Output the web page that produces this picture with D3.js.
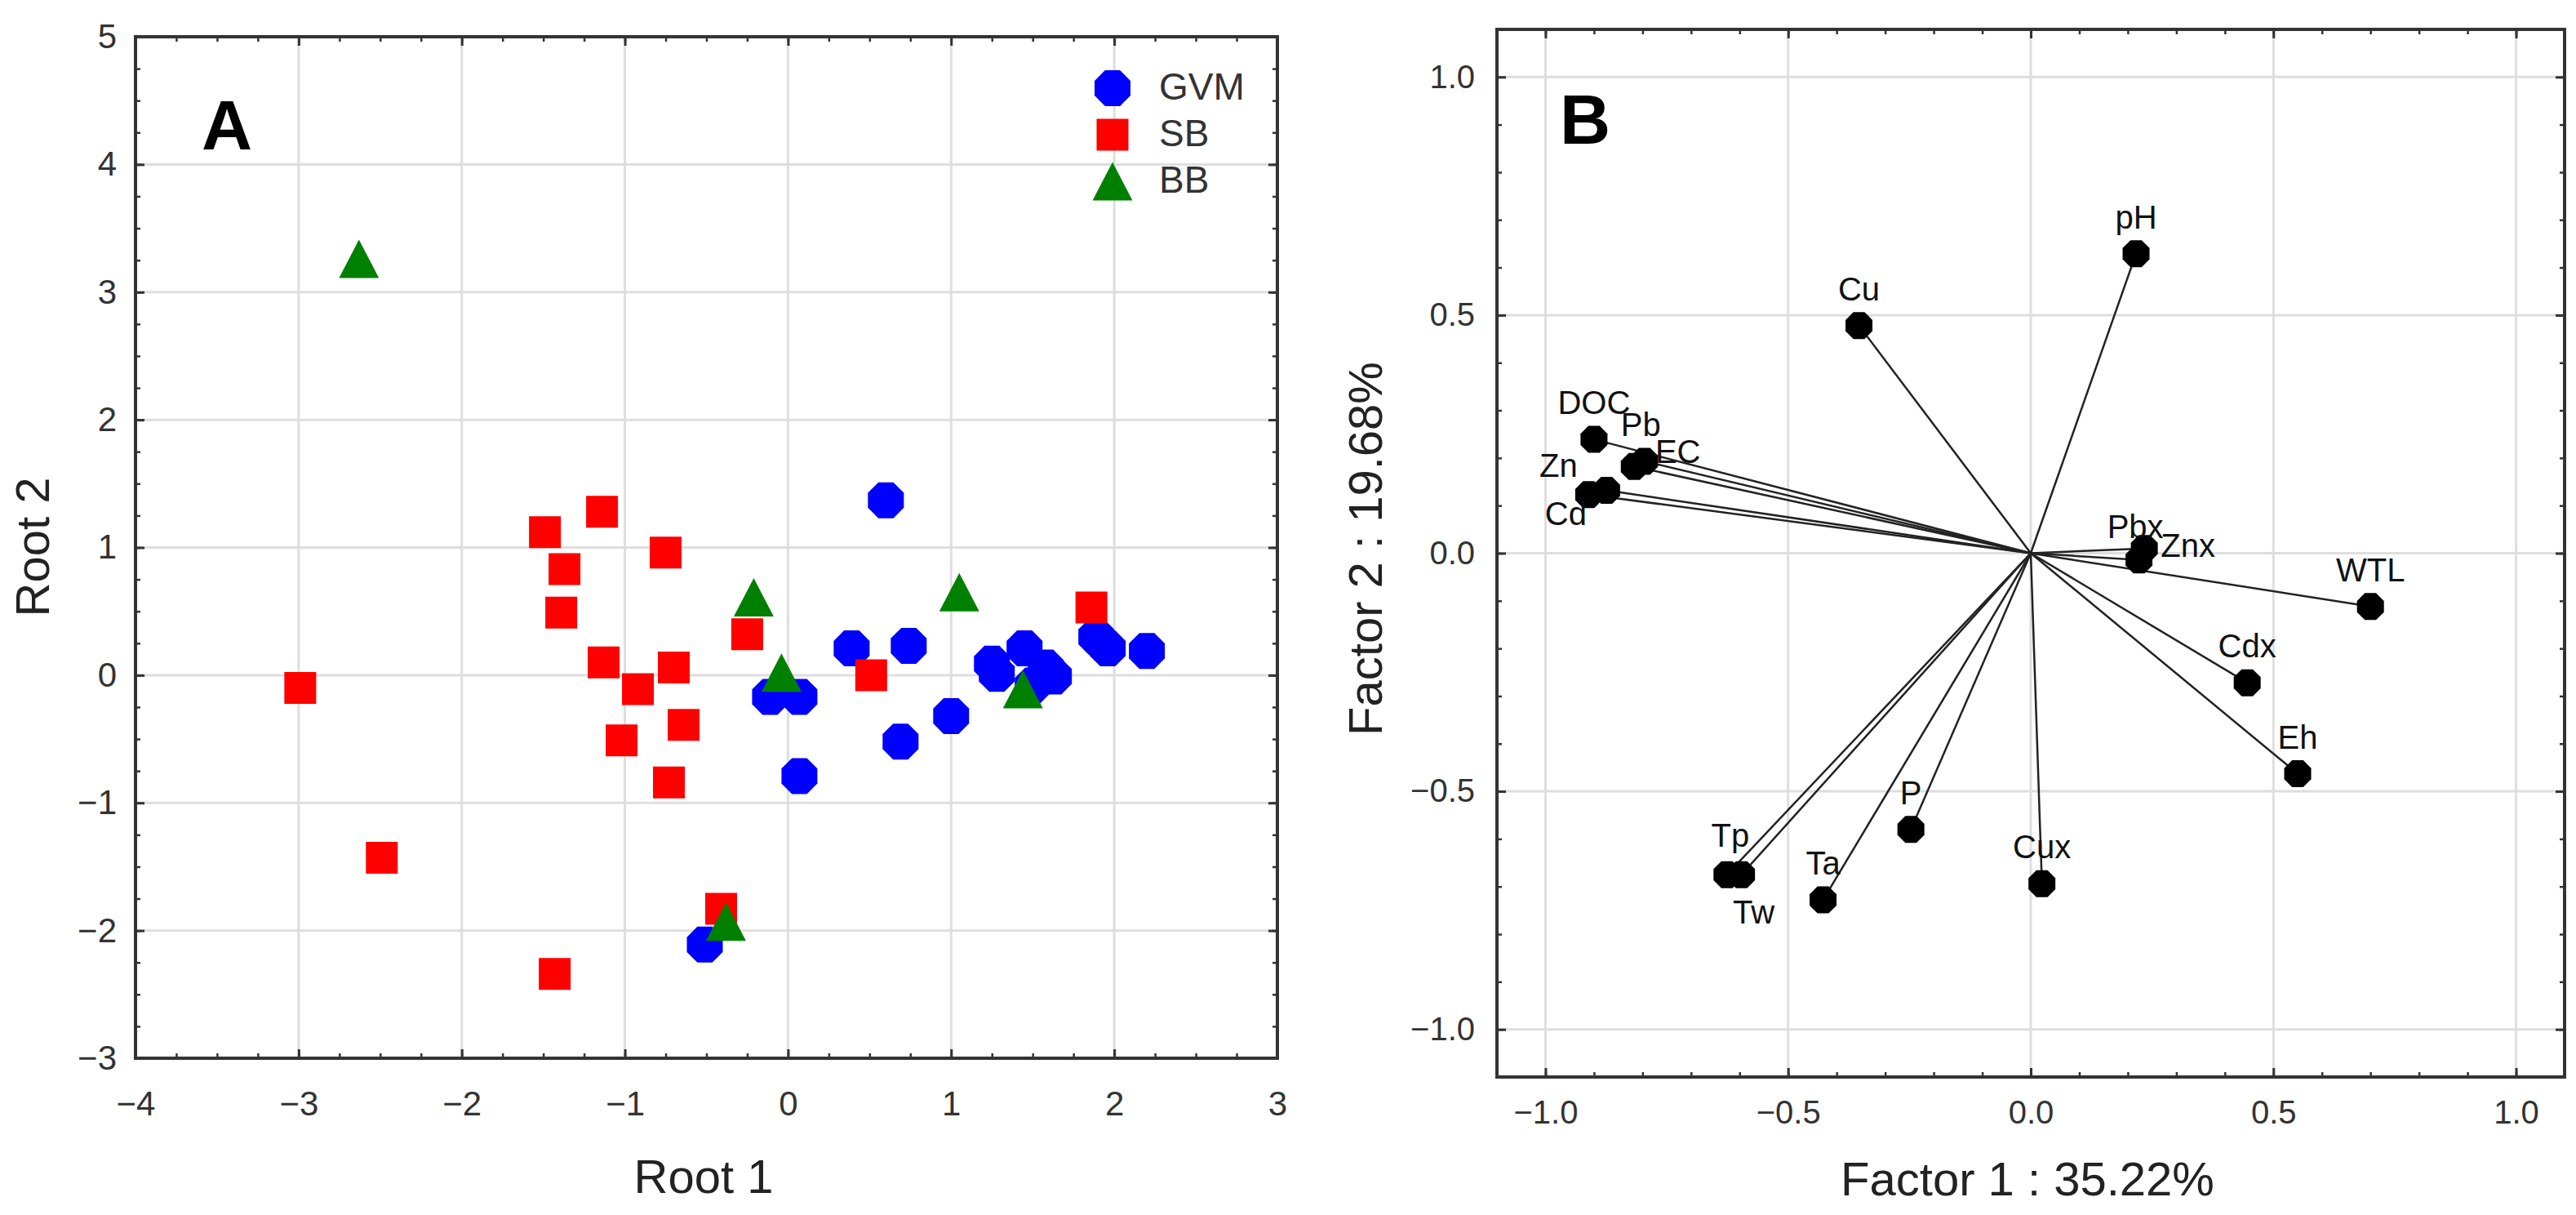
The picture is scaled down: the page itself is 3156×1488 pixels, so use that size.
<!DOCTYPE html>
<html>
<head>
<meta charset="utf-8">
<script src="https://cdn.jsdelivr.net/npm/d3@7"></script>
<style>
  body { margin: 0; background: #fff; }
  text { font-family: "Liberation Sans", Arial, sans-serif; }
</style>
</head>
<body>
<script>
// Panel A - discriminant scores (Root 1 / Root 2) per group
const groups = ['GVM', 'SB', 'BB'];
const gvmRoot1 = [0.60, 0.39, 0.74, -0.11, 0.07, 0.07, 0.69, 1.00, 1.25, 1.28, 1.45, 1.58, 1.63, 1.50, 1.89, 1.96, 2.20, -0.51];
const gvmRoot2 = [1.37, 0.21, 0.23, -0.17, -0.17, -0.79, -0.52, -0.32, 0.09, 0.01, 0.21, 0.06, -0.01, -0.08, 0.30, 0.21, 0.19, -2.11];
const sbRoot1 = [-2.99, -2.49, -1.43, -0.41, -1.49, -1.14, -1.37, -1.39, -0.75, -1.13, -0.92, -0.70, -0.64, -1.02, -0.73, -0.25, 0.51, 1.86];
const sbRoot2 = [-0.10, -1.43, -2.34, -1.83, 1.12, 1.28, 0.83, 0.49, 0.96, 0.10, -0.11, 0.06, -0.39, -0.51, -0.84, 0.32, 0.00, 0.53];
const bbRoot1 = [-2.63, -0.21, -0.04, 1.05, 1.44, -0.38];
const bbRoot2 = [3.26, 0.61, 0.02, 0.65, -0.11, -1.93];
const rootTicksX = [-4, -3, -2, -1, 0, 1, 2, 3];
const rootTicksY = [-3, -2, -1, 0, 1, 2, 3, 4, 5];

// Panel B - factor loadings
const variables = ['pH', 'Cu', 'DOC', 'Pb', 'EC', 'Zn', 'Cd', 'Pbx', 'Znx', 'WTL', 'Cdx', 'Eh', 'Cux', 'P', 'Ta', 'Tp', 'Tw'];
const factor1 = [0.217, -0.354, -0.900, -0.817, -0.796, -0.911, -0.874, 0.234, 0.223, 0.700, 0.446, 0.550, 0.023, -0.247, -0.428, -0.626, -0.596];
const factor2 = [0.629, 0.478, 0.239, 0.182, 0.193, 0.123, 0.132, 0.010, -0.014, -0.112, -0.272, -0.463, -0.694, -0.580, -0.728, -0.675, -0.675];
const factorTicks = [-1.0, -0.5, 0.0, 0.5, 1.0];

// label nudges (px) for the crowded loadings, default is centred above the point
const labelNudge = {
  Pb: [8, -37], EC: [41, 2], Zn: [-37, -22], Cd: [-50, 42],
  Pbx: [-11, -13], Znx: [60, -4], Tw: [15, 60], Tp: [4, -34]
};

const svg = d3.select('body').append('svg')
  .attr('width', 3156)
  .attr('height', 1488);

// marker shapes
const octagon = {
  draw(ctx, size) {
    const r = Math.sqrt(size) / 2 / Math.cos(Math.PI / 8);
    for (let i = 0; i < 8; i++) {
      const a = Math.PI / 8 + i * Math.PI / 4;
      if (i === 0) ctx.moveTo(r * Math.cos(a), r * Math.sin(a));
      else ctx.lineTo(r * Math.cos(a), r * Math.sin(a));
    }
    ctx.closePath();
  }
};
const triangle = {
  draw(ctx, size) {
    const s = Math.sqrt(size);
    ctx.moveTo(0, -s / 2);
    ctx.lineTo(s * 0.52, s / 2);
    ctx.lineTo(-s * 0.52, s / 2);
    ctx.closePath();
  }
};

const groupStyle = {
  GVM: { fill: '#0000ff', shape: octagon, size: 44 * 44 },
  SB: { fill: '#ff0000', shape: d3.symbolSquare, size: 39 * 39 },
  BB: { fill: '#008000', shape: triangle, size: 47 * 47 }
};

function frame(g, x, y, xTicks, yTicks, minorX, minorY, fmt, fontSize, padX, padY) {
  const [x0, x1] = x.range();
  const [y0, y1] = y.range();
  const w = x1 - x0, h = y0 - y1;

  // grid
  g.append('g').selectAll('line').data(xTicks.filter(d => x(d) > x0 + 1 && x(d) < x1 - 1)).enter()
    .append('line')
    .attr('x1', d => x(d)).attr('x2', d => x(d))
    .attr('y1', y1).attr('y2', y0)
    .attr('stroke', '#dedede').attr('stroke-width', 3);
  g.append('g').selectAll('line').data(yTicks.filter(d => y(d) < y0 - 1 && y(d) > y1 + 1)).enter()
    .append('line')
    .attr('y1', d => y(d)).attr('y2', d => y(d))
    .attr('x1', x0).attr('x2', x1)
    .attr('stroke', '#dedede').attr('stroke-width', 3);

  // inward ticks on all sides
  const sides = [
    [() => d3.axisBottom(x), `translate(0,${y0})`, xTicks, minorX],
    [() => d3.axisTop(x), `translate(0,${y1})`, xTicks, minorX],
    [() => d3.axisLeft(y), `translate(${x0},0)`, yTicks, minorY],
    [() => d3.axisRight(y), `translate(${x1},0)`, yTicks, minorY]
  ];
  sides.forEach(([makeAxis, tr, major, minor]) => {
    g.append('g').attr('transform', tr)
      .call(makeAxis().tickValues(minor).tickSize(-6).tickFormat(''))
      .call(a => a.select('.domain').remove())
      .call(a => a.selectAll('line').attr('stroke', '#333').attr('stroke-width', 2.5));
    g.append('g').attr('transform', tr)
      .call(makeAxis().tickValues(major).tickSize(-11).tickFormat(''))
      .call(a => a.select('.domain').remove())
      .call(a => a.selectAll('line').attr('stroke', '#333').attr('stroke-width', 3));
  });

  // tick labels
  g.append('g').attr('transform', `translate(0,${y0})`)
    .call(d3.axisBottom(x).tickValues(xTicks).tickSize(0).tickPadding(padX).tickFormat(fmt))
    .call(a => a.select('.domain').remove())
    .call(a => a.selectAll('text').attr('font-size', fontSize).attr('fill', '#333')
      .attr('font-family', '"Liberation Sans", Arial, sans-serif'));
  g.append('g').attr('transform', `translate(${x0},0)`)
    .call(d3.axisLeft(y).tickValues(yTicks).tickSize(0).tickPadding(padY).tickFormat(fmt))
    .call(a => a.select('.domain').remove())
    .call(a => a.selectAll('text').attr('font-size', fontSize).attr('fill', '#333')
      .attr('font-family', '"Liberation Sans", Arial, sans-serif'));

  g.append('rect')
    .attr('x', x0).attr('y', y1).attr('width', w).attr('height', h)
    .attr('fill', 'none').attr('stroke', '#333').attr('stroke-width', 4);
}

// ---------- Panel A ----------
const xA = d3.scaleLinear().domain([-4, 3]).range([166, 1565]);
const yA = d3.scaleLinear().domain([-3, 5]).range([1296, 45]);
const gA = svg.append('g');

frame(gA, xA, yA, rootTicksX, rootTicksY, d3.range(-4, 3.01, 0.25), d3.range(-3, 5.01, 0.25),
  d3.format('d'), 42, 40, 23);

const groupData = {
  GVM: gvmRoot1.map((v, i) => [v, gvmRoot2[i]]),
  SB: sbRoot1.map((v, i) => [v, sbRoot2[i]]),
  BB: bbRoot1.map((v, i) => [v, bbRoot2[i]])
};

groups.forEach(grp => {
  const st = groupStyle[grp];
  gA.append('g').selectAll('path').data(groupData[grp]).enter()
    .append('path')
    .attr('d', d3.symbol().type(st.shape).size(st.size))
    .attr('transform', d => `translate(${xA(d[0])},${yA(d[1])})`)
    .attr('fill', st.fill);
});

// legend
const legend = gA.append('g').selectAll('g').data(groups).enter()
  .append('g')
  .attr('transform', (d, i) => `translate(1363,${108 + i * 57})`);
legend.append('path')
  .attr('d', d => d3.symbol().type(groupStyle[d].shape).size(groupStyle[d].size)())
  .attr('fill', d => groupStyle[d].fill);
legend.append('text')
  .attr('x', 57).attr('y', 14)
  .attr('font-size', 46).attr('fill', '#333')
  .text(d => d);

gA.append('text').attr('x', 278).attr('y', 183)
  .attr('text-anchor', 'middle').attr('font-size', 86).attr('font-weight', 'bold')
  .text('A');
gA.append('text').attr('x', 862).attr('y', 1461)
  .attr('text-anchor', 'middle').attr('font-size', 58).attr('fill', '#222')
  .text('Root 1');
gA.append('text')
  .attr('transform', 'translate(60,670) rotate(-90)')
  .attr('text-anchor', 'middle').attr('font-size', 58).attr('fill', '#222')
  .text('Root 2');

// ---------- Panel B ----------
const xB = d3.scaleLinear().domain([-1.1, 1.1]).range([1834, 3142]);
const yB = d3.scaleLinear().domain([-1.1, 1.1]).range([1319, 36]);
const gB = svg.append('g');

frame(gB, xB, yB, factorTicks, factorTicks, d3.range(-1.1, 1.11, 0.1), d3.range(-1.1, 1.11, 0.1),
  d3.format('.1f'), 40, 29, 27);

const loadings = variables.map((v, i) => ({ name: v, f1: factor1[i], f2: factor2[i] }));

gB.append('g').selectAll('line').data(loadings).enter()
  .append('line')
  .attr('x1', xB(0)).attr('y1', yB(0))
  .attr('x2', d => xB(d.f1)).attr('y2', d => yB(d.f2))
  .attr('stroke', '#222').attr('stroke-width', 2.5);

gB.append('g').selectAll('path').data(loadings).enter()
  .append('path')
  .attr('d', d3.symbol().type(octagon).size(33 * 33))
  .attr('transform', d => `translate(${xB(d.f1)},${yB(d.f2)})`)
  .attr('fill', '#000');

gB.append('g').selectAll('text').data(loadings).enter()
  .append('text')
  .attr('x', d => xB(d.f1) + (labelNudge[d.name] || [0, -31])[0])
  .attr('y', d => yB(d.f2) + (labelNudge[d.name] || [0, -31])[1])
  .attr('text-anchor', 'middle').attr('font-size', 40).attr('fill', '#111')
  .text(d => d.name);

gB.append('text').attr('x', 1942).attr('y', 176)
  .attr('text-anchor', 'middle').attr('font-size', 86).attr('font-weight', 'bold')
  .text('B');
gB.append('text').attr('x', 2484).attr('y', 1464)
  .attr('text-anchor', 'middle').attr('font-size', 58).attr('fill', '#222')
  .text('Factor 1 : 35.22%');
gB.append('text')
  .attr('transform', 'translate(1693,672) rotate(-90)')
  .attr('text-anchor', 'middle').attr('font-size', 58).attr('fill', '#222')
  .text('Factor 2 : 19.68%');
</script>
</body>
</html>
